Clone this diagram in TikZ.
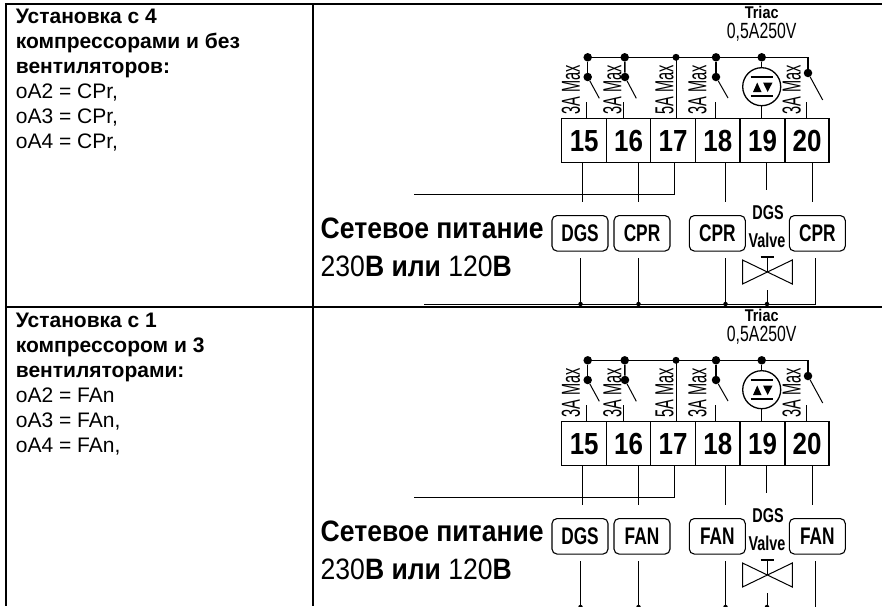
\documentclass[tikz,border=0pt]{standalone}
\usepackage{fontspec}
\setmainfont{Liberation Sans}
\newfontfamily\thinfont[FakeStretch=0.56]{Liberation Sans}
\newfontfamily\narrowfont[FakeStretch=0.72]{Liberation Sans}
\newfontfamily\midfont[FakeStretch=0.85]{Liberation Sans}
\newfontfamily\mainsfont[FakeStretch=0.9]{Liberation Sans}
\usetikzlibrary{shapes,arrows}
\tikzstyle{grid} = [line width=2pt]
\tikzstyle{wire} = [line width=1pt]
\tikzstyle{bus} = [line width=1.5pt]
\tikzstyle{junction} = [circle,fill=black,inner sep=0pt,minimum size=8.5pt]
\tikzstyle{tinydot} = [circle,fill=black,inner sep=0pt,minimum size=4.5pt]
\tikzstyle{terminal} = [draw,line width=1.2pt,rectangle,inner sep=0pt,minimum height=44.4pt,text height=22pt,text depth=0pt,font=\midfont\bfseries\fontsize{30.5}{30.5}\selectfont]
\tikzstyle{load} = [draw,line width=1.1pt,rectangle,rounded corners=5pt,inner sep=0pt,minimum width=56pt,minimum height=35.5pt,text height=17pt,text depth=0pt,font=\narrowfont\bfseries\fontsize{24}{24}\selectfont]
\tikzstyle{rating} = [rotate=90,inner sep=0pt,font=\thinfont\fontsize{26}{26}\selectfont]
\tikzstyle{cell} = [anchor=north west,align=left,inner sep=0pt,font=\fontsize{21}{25}\selectfont]
\tikzstyle{mains} = [anchor=west,inner sep=0pt,font=\mainsfont\fontsize{29.5}{29.5}\selectfont]

\begin{document}
\begin{tikzpicture}[x=1pt,y=-1pt]
    \clip (0,0) rectangle (882,606);
    % table
    \draw[grid] (4.8,4) -- (882,4);
    \draw[grid] (4.8,307) -- (882,307);
    \draw[grid] (5.8,3) -- (5.8,606);
    \draw[grid] (313,3) -- (313,606);
    \node[cell] (textone) at (15.7,9) {\textbf{Установка с 4}\\\textbf{компрессорами и без}\\\textbf{вентиляторов:}\\oA2 = CPr,\\oA3 = CPr,\\oA4 = CPr,};
    \node[cell] (texttwo) at (15.7,313) {\textbf{Установка с 1}\\\textbf{компрессором и 3}\\\textbf{вентиляторами:}\\oA2 = FAn\\oA3 = FAn,\\oA4 = FAn,};
    % both wiring rows
    \foreach \row/\dy/\lab in {a/0/CPR,b/303/FAN} {
        \begin{scope}[yshift=-\dy pt]
            \node[inner sep=0pt,font=\midfont\bfseries\fontsize{17}{17}\selectfont] (triac\row) at (761.7,12) {Triac};
            \node[inner sep=0pt,font=\narrowfont\fontsize{22}{22}\selectfont] (amp\row) at (761.7,32) {0,5A250V};
            % terminals
            \node[terminal,minimum width=45pt] (t15\row) at (584.2,140.5) {15};
            \node[terminal,minimum width=43.6pt] (t16\row) at (628.5,140.5) {16};
            \node[terminal,minimum width=45.4pt] (t17\row) at (673,140.5) {17};
            \node[terminal,minimum width=44.3pt] (t18\row) at (717.85,140.5) {18};
            \node[terminal,minimum width=45pt] (t19\row) at (762.5,140.5) {19};
            \node[terminal,minimum width=44pt] (t20\row) at (807,140.5) {20};
            % ratings
            \node[rating] (ra\row) at (571,90) {3A Max};
            \node[rating] (rb\row) at (612.5,90) {3A Max};
            \node[rating] (rc\row) at (664.5,90) {5A Max};
            \node[rating] (rd\row) at (697.5,90) {3A Max};
            \node[rating] (re\row) at (791.7,90) {3A Max};
            % common bus
            \node[junction] (ja\row) at (587.7,57.3) {};
            \node[junction] (jb\row) at (624.7,57.3) {};
            \node[tinydot,minimum size=7pt] (jc\row) at (676,57.3) {};
            \node[junction] (jd\row) at (716,57.3) {};
            \node[junction] (je\row) at (761.7,57.3) {};
            \coordinate (jf\row) at (808,57.3);
            \draw[bus] (ja\row.center) -- (jf\row);
            % relays
            \node[junction] (sa\row) at (587.7,77) {};
            \node[junction] (sb\row) at (625,77) {};
            \node[junction] (sd\row) at (716,77) {};
            \node[junction] (sf\row) at (808,73) {};
            \coordinate (ba\row) at (599.3,98.3);
            \coordinate (bb\row) at (636.3,98.3);
            \coordinate (bd\row) at (728,98);
            \coordinate (bf\row) at (822.7,100);
            \draw[bus] (ja\row) -- (sa\row);
            \draw[wire] (sa\row) -- (ba\row);
            \draw[bus] (jb\row) -- (sb\row);
            \draw[wire] (sb\row) -- (bb\row);
            \draw[bus] (jd\row) -- (sd\row);
            \draw[wire] (sd\row) -- (bd\row);
            \draw[bus] (jf\row) -- (sf\row);
            \draw[wire] (sf\row) -- (bf\row);
            \draw[wire] (586,102) -- (586,118);
            \draw[wire] (623.3,102) -- (623.3,118);
            \draw[wire] (715,102) -- (715,118);
            \draw[wire] (806,102) -- (806,118);
            \draw[wire] (jc\row.center) -- (676,118);
            % triac symbol
            \node[draw,circle,line width=1.3pt,inner sep=0pt,minimum size=38pt] (sym\row) at (761.7,86.7) {};
            \draw[wire] (je\row) -- (sym\row);
            \draw[wire] (sym\row) -- (761.7,118);
            \draw[line width=1.6pt] (750.7,76.7) -- (773,76.7);
            \draw[line width=1.6pt] (750.7,95.7) -- (773,95.7);
            \fill (753,92) -- (761.5,92) -- (757.2,82.5) -- cycle;
            \fill (763,82.5) -- (772.5,82.5) -- (767.7,92) -- cycle;
            % loads
            \node[load] (la\row) at (580,233.3) {DGS};
            \node[load] (lb\row) at (642,233.3) {\lab};
            \node[load] (lc\row) at (717.3,233.3) {\lab};
            \node[load] (ld\row) at (817.3,233.3) {\lab};
            \node[inner sep=0pt,font=\narrowfont\bfseries\fontsize{20}{20}\selectfont] (dgs\row) at (768,213) {DGS};
            \node[inner sep=0pt,font=\narrowfont\bfseries\fontsize{20}{20}\selectfont] (valve\row) at (767,240) {Valve};
            \draw[wire] (582.5,163) -- (582.5,202);
            \draw[wire] (638.5,163) -- (638.5,202);
            \draw[wire] (674.5,163) -- (674.5,194.5) -- (414,194.5);
            \draw[wire] (725.5,163) -- (725.5,202);
            \draw[wire] (766.5,163) -- (766.5,190);
            \draw[wire] (812.5,163) -- (812.5,202);
            % valve
            \draw[wire] (742.5,260) -- (792.3,284) -- (792.3,260) -- (742.5,284) -- cycle;
            \draw[line width=1.6pt] (767.4,257) -- (767.4,272);
            \draw[line width=2.2pt] (760.5,257) -- (774,257);
            % return bus
            \node[tinydot] (da\row) at (580.5,304) {};
            \node[tinydot] (db\row) at (638.5,304) {};
            \node[tinydot] (dc\row) at (725.5,304) {};
            \node[tinydot] (dd\row) at (767,304) {};
            \coordinate (de\row) at (815.5,304);
            \draw[wire] (580.5,258) -- (da\row.center);
            \draw[wire] (638.5,258) -- (db\row.center);
            \draw[wire] (725.5,258) -- (dc\row.center);
            \draw[wire] (767,290) -- (dd\row.center);
            \draw[wire] (815.5,258) -- (de\row) -- (424,304);
            % mains text
            \node[mains] (mainsa\row) at (320.5,228) {\textbf{Сетевое питание}};
            \node[mains] (mainsb\row) at (320.5,266) {230\textbf{В или} 120\textbf{В}};
        \end{scope}
    }
\end{tikzpicture}
\end{document}
